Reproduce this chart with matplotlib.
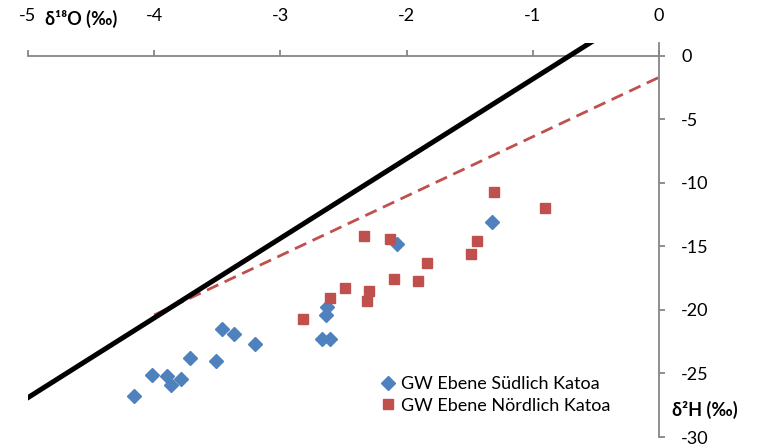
import numpy as np
import matplotlib
matplotlib.use("Agg")
import matplotlib.pyplot as plt

plt.rcParams['font.family'] = ['Lato', 'DejaVu Sans']

# GW Ebene Südlich Katoa (delta18O, delta2H)
sued_o = [-4.16, -4.02, -3.90, -3.87, -3.79, -3.72, -3.51, -3.46, -3.37, -3.20,
          -2.63, -2.64, -2.67, -2.61, -2.08, -1.32]
sued_h = [-26.8, -25.1, -25.2, -25.9, -25.4, -23.8, -24.0, -21.5, -21.9, -22.7,
          -19.8, -20.4, -22.3, -22.3, -14.8, -13.1]

# GW Ebene Nördlich Katoa
nord_o = [-2.34, -2.13, -1.84, -2.10, -1.91, -2.49, -2.30, -2.61, -2.31, -2.82,
          -1.31, -0.90, -1.44, -1.49]
nord_h = [-14.2, -14.4, -16.3, -17.6, -17.7, -18.3, -18.5, -19.1, -19.3, -20.7,
          -10.7, -12.0, -14.6, -15.6]

# reference lines (end points)
line1_o = [-5.0, -0.5]
line1_h = [-26.9, 1.3]
line2_o = [-4.0, 0.0]
line2_h = [-20.4, -1.7]

xticks = [-5, -4, -3, -2, -1, 0]
yticks = [0, -5, -10, -15, -20, -25, -30]

axis_col = '#868686'
fs = 13

fig = plt.figure(figsize=(7.58, 4.48), dpi=100)
ax = fig.add_axes([28/758, 11/448, 631/758, 394/448])

ax.plot(line2_o, line2_h, color='#C0504D', lw=2.0, dashes=(4.5, 2.5), zorder=2)
ax.plot(line1_o, line1_h, color='black', lw=3.6, zorder=3)
ax.plot(sued_o, sued_h, 'D', color='#4F81BD', ms=7.5, mec='#4F81BD', ls='none',
        zorder=4, label='GW Ebene Südlich Katoa')
ax.plot(nord_o, nord_h, 's', color='#C0504D', ms=7, mec='#C0504D', ls='none',
        zorder=4, label='GW Ebene Nördlich Katoa')

ax.set_xlim(-5, 0)
ax.set_ylim(-30, 1)

for s in ['left', 'bottom']:
    ax.spines[s].set_visible(False)
ax.spines['top'].set_position(('data', 0))
ax.spines['right'].set_position(('data', 0))
for s in ['top', 'right']:
    ax.spines[s].set_color(axis_col)
    ax.spines[s].set_linewidth(1.3)

ax.xaxis.set_ticks_position('top')
ax.set_xticks(xticks)
ax.tick_params(axis='x', direction='out', length=4, width=1.3, color=axis_col,
               labeltop=False, labelbottom=False)
ax.yaxis.set_ticks_position('right')
ax.set_yticks(yticks)
ax.set_yticklabels([str(v) for v in yticks])
ax.tick_params(axis='y', direction='out', length=4, width=1.3, color=axis_col,
               labelsize=fs, pad=12)
for lab in ax.get_yticklabels():
    lab.set_horizontalalignment('left')

# x tick labels sit above the plot area
sec = ax.secondary_xaxis('top')
sec.set_xticks(xticks)
sec.set_xticklabels([str(v) for v in xticks])
sec.tick_params(length=0, labelsize=fs, pad=14)
sec.spines['top'].set_visible(False)

fig.text(45/758, 1 - 19/448, 'δ¹⁸O (‰)', fontsize=fs, fontweight='bold',
         ha='left', va='center')
fig.text(672/758, 1 - 410/448, 'δ²H (‰)', fontsize=fs, fontweight='bold',
         ha='left', va='center')

ax.legend(loc='upper left', bbox_to_anchor=(372/758, 1 - 369/448),
          bbox_transform=fig.transFigure, frameon=False, fontsize=fs,
          handletextpad=0.2, handlelength=1.0, labelspacing=0.3,
          borderaxespad=0)

fig.savefig('out.png', dpi=100)
